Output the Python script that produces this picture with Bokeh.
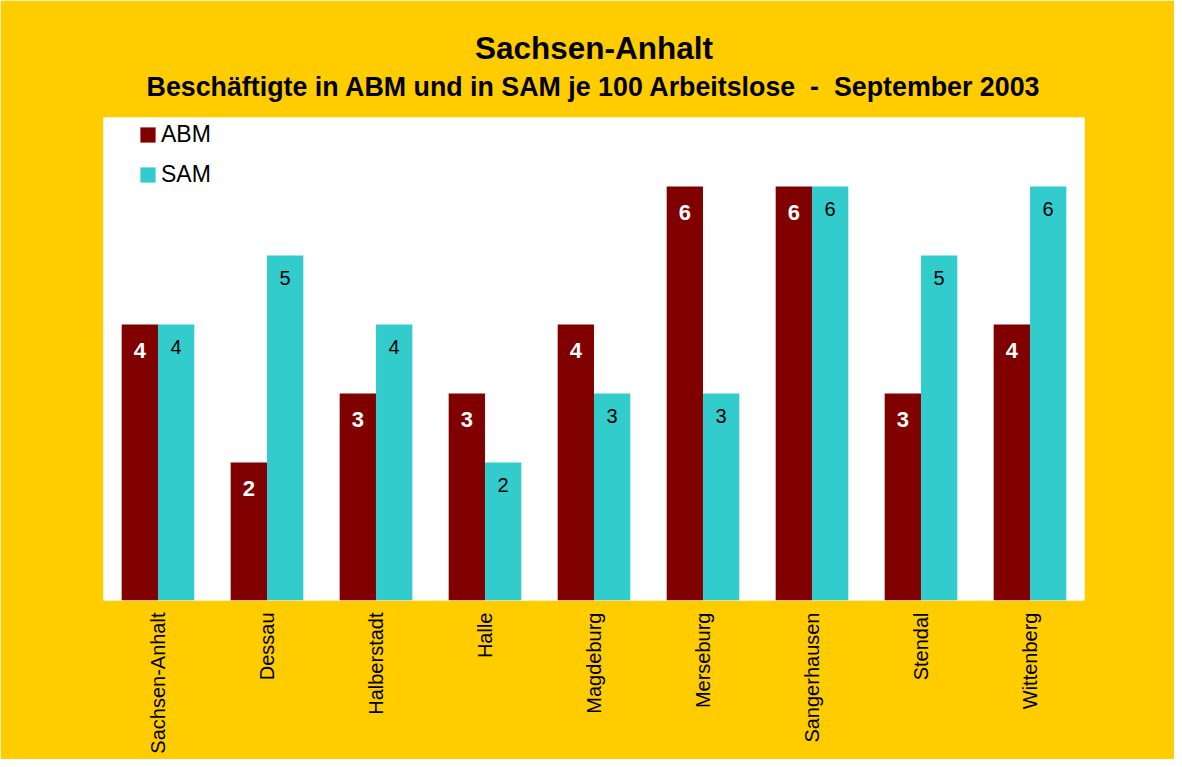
import math
from bokeh.plotting import figure
from bokeh.models import ColumnDataSource, FactorRange, Range1d, Title, Legend, LegendItem
from bokeh.transform import dodge
from bokeh.core.properties import value
from bokeh.embed import file_html
from bokeh.resources import INLINE

categories = ["Sachsen-Anhalt", "Dessau", "Halberstadt", "Halle", "Magdeburg",
              "Merseburg", "Sangerhausen", "Stendal", "Wittenberg"]
abm = [4, 2, 3, 3, 4, 6, 6, 3, 4]
sam = [4, 5, 4, 2, 3, 3, 6, 5, 6]
series_names = ["ABM", "SAM"]
title_text = "Sachsen-Anhalt"
subtitle_text = "Beschäftigte in ABM und in SAM je 100 Arbeitslose \u00a0-\u00a0 September 2003"

FONT = "Liberation Sans"
GOLD = "#FFCC00"
ABM_COLOR = "#800000"
SAM_COLOR = "#33CCCC"

src = ColumnDataSource(dict(
    cat=categories, abm=abm, sam=sam,
    abm_txt=[str(v) for v in abm], sam_txt=[str(v) for v in sam],
))

p = figure(
    x_range=FactorRange(factors=categories, range_padding=0),
    y_range=Range1d(0, 7),
    width=1174, height=759, title=None,
    output_backend="svg", toolbar_location=None,
    min_border_left=103, min_border_right=90, min_border_top=117, min_border_bottom=159,
    background_fill_color="white", border_fill_color=GOLD, outline_line_color=None,
)

r1 = p.vbar(x=dodge("cat", -0.1667, range=p.x_range), top="abm", width=0.333,
            source=src, fill_color=ABM_COLOR, line_color=None)
r2 = p.vbar(x=dodge("cat", 0.1667, range=p.x_range), top="sam", width=0.333,
            source=src, fill_color=SAM_COLOR, line_color=None)

p.text(x=dodge("cat", -0.1667, range=p.x_range), y="abm", text="abm_txt", source=src,
       text_align="center", text_baseline="middle", y_offset=26,
       text_color="white", text_font=value(FONT), text_font_style="bold",
       text_font_size="22px")
p.text(x=dodge("cat", 0.1667, range=p.x_range), y="sam", text="sam_txt", source=src,
       text_align="center", text_baseline="middle", y_offset=22,
       text_color="black", text_font=value(FONT), text_font_style="normal",
       text_font_size="20px")

legend = Legend(
    items=[LegendItem(label=series_names[0], renderers=[r1]),
           LegendItem(label=series_names[1], renderers=[r2])],
    location=(35, 412.5), padding=0, margin=0,
    glyph_width=19, glyph_height=19, label_standoff=4,
    label_text_font=FONT, label_text_font_size="23px", label_text_color="black",
    label_height=26, spacing=13, border_line_color=None, background_fill_alpha=0,
)
p.add_layout(legend)

has_padding = "padding" in Title.properties()
if has_padding:
    sub = Title(text=subtitle_text, align="center", vertical_align="bottom",
                text_font=FONT, text_font_style="bold", text_font_size="26.8px",
                text_color="black", standoff=8,
                padding=dict(left=0, right=0, top=0, bottom=12))
    main = Title(text=title_text, align="center", vertical_align="bottom",
                 text_font=FONT, text_font_style="bold", text_font_size="31.5px",
                 text_color="black", standoff=0)
else:
    sub = Title(text=subtitle_text, align="center", vertical_align="top",
                text_font=FONT, text_font_style="bold", text_font_size="26.8px",
                text_color="black", standoff=28.5)
    main = Title(text=title_text, align="center", vertical_align="top",
                 text_font=FONT, text_font_style="bold", text_font_size="31.5px",
                 text_color="black", standoff=0)
p.add_layout(sub, "above")
p.add_layout(main, "above")

p.xaxis.axis_line_color = None
p.xaxis.major_tick_line_color = None
p.xaxis.minor_tick_line_color = None
p.xaxis.major_tick_out = 0
p.xaxis.major_tick_in = 0
p.xaxis.major_label_orientation = math.pi / 2
p.xaxis.major_label_standoff = 12
p.xaxis.major_label_text_font = FONT
p.xaxis.major_label_text_font_size = "20px"
p.xaxis.major_label_text_color = "black"
p.yaxis.visible = False
p.grid.visible = False

open("out.html", "w").write(file_html(p, INLINE))
